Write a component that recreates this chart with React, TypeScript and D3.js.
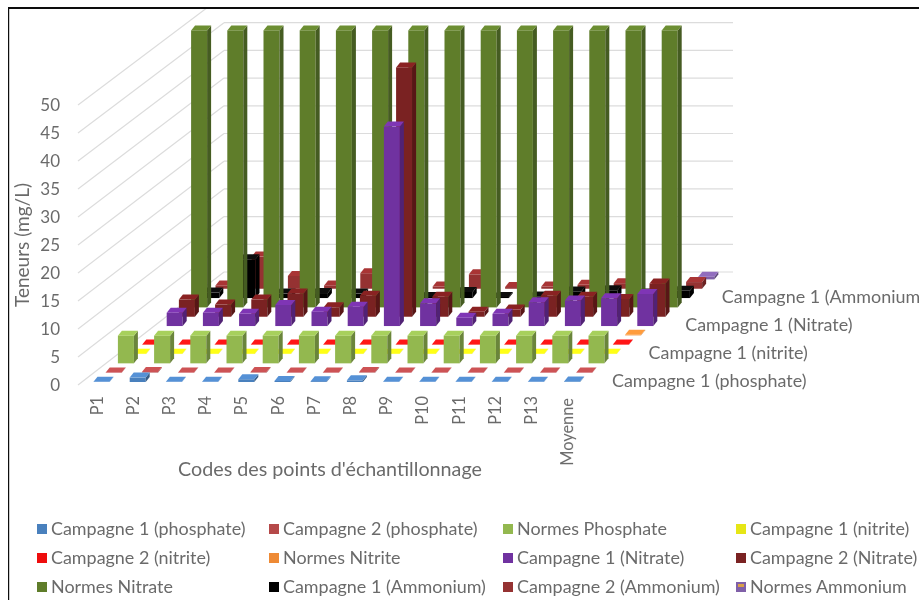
import React from "react";
import * as d3 from "d3";

const categories = ["P1","P2","P3","P4","P5","P6","P7","P8","P9","P10","P11","P12","P13","Moyenne"];
const axisTicks = [0,5,10,15,20,25,30,35,40,45,50];
const backTicks = [0,5,10,15,20,25,30,35,40,45];

const phosphate1 = [0.03,0.8,0.03,0.03,0.5,0.2,0.15,0.3,0.03,0.03,0.03,0.03,0.03,0.1];
const phosphate2 = [0.05,0.1,0.05,0.05,0.1,0.05,0.05,0.1,0.05,0.05,0.05,0.05,0.05,0.05];
const normesPhosphate = [5,5,5,5,5,5,5,5,5,5,5,5,5,5];
const nitrite1 = [0.05,0.05,0.05,0.05,0.05,0.05,0.05,0.05,0.05,0.05,0.05,0.05,0.05,0.05];
const nitrite2 = [0.05,0.05,0.05,0.05,0.05,0.05,0.05,0.05,0.05,0.05,0.05,0.05,0.05,0.05];
const normesNitrite = [null,null,null,null,null,null,null,null,null,null,null,null,null,0.1];
const nitrate1 = [2.4,2.4,2.2,3.8,2.6,3.5,36,4.1,1.5,2.2,4.3,4.6,5,5.8];
const nitrate2 = [3.1,2.2,3.1,4.2,1.7,3.8,45,3.6,0.9,1.3,3.8,3.6,3.2,6];
const normesNitrate = [50,50,50,50,50,50,50,50,50,50,50,50,50,50];
const ammonium1 = [1,7,0.8,0.9,0.8,0.5,0.2,1.1,0.2,0.3,1.2,1.4,0.8,1.3];
const ammonium2 = [0.6,5.8,2.3,0.6,2.8,0.5,0.4,2.6,0.3,0.4,0.7,1,0.5,1.2];
const normesAmmonium = [null,null,null,null,null,null,null,null,null,null,null,null,null,0.5];

const seriesNames = [
  "Campagne 1 (phosphate)","Campagne 2 (phosphate)","Normes Phosphate","Campagne 1 (nitrite)",
  "Campagne 2 (nitrite)","Normes Nitrite","Campagne 1 (Nitrate)","Campagne 2 (Nitrate)",
  "Normes Nitrate","Campagne 1 (Ammonium)","Campagne 2 (Ammonium)","Normes Ammonium",
];
const seriesValues = [phosphate1,phosphate2,normesPhosphate,nitrite1,nitrite2,normesNitrite,nitrate1,nitrate2,normesNitrate,ammonium1,ammonium2,normesAmmonium];
const seriesColors = ["#4a80bd","#b5484a","#93b850","#e6e614","#ee1010","#ee8a36","#7030a0","#7a2020","#5f7d2c","#000000","#953030","#8060a8"];
const depthLabels = [
  { name: "Campagne 1 (phosphate)", row: 0 },
  { name: "Campagne 1 (nitrite)", row: 3 },
  { name: "Campagne 1 (Nitrate)", row: 6 },
  { name: "Campagne 1 (Ammonium)", row: 9 },
];

const FONT = "Lato, 'Open Sans', sans-serif";
const GREY = "#6b6b6b";
const yPx = d3.scaleLinear().domain([0, 50]).range([0, 277]);
const frontY = d3.scaleLinear().domain([0, 50]).range([385, 105]);
const backY = d3.scaleLinear().domain([0, 50]).range([272, -5]);
const catX = d3.scaleLinear().domain([0, 13]).range([0, 470.6]);
const rowX = d3.scaleLinear().domain([0, 11]).range([101.5, 235.7]);
const rowY = d3.scaleLinear().domain([0, 11]).range([382, 279.4]);
const wallLeft = 224, wallFront = 78, wallRight = 733;
const W = 16, DX = 4, DY = 5;
const TEXT_STRETCH = 1.08;

function Bar({ row, cat, value, color }: { row: number; cat: number; value: number; color: string }) {
  const cx = rowX(row) + catX(cat);
  const x0 = cx - W / 2, x1 = cx + W / 2;
  const base = rowY(row);
  const top = base - yPx(value);
  const c = d3.color(color)!;
  const side = color === "#000000" ? "#000" : c.darker(0.9).formatHex();
  const lid = color === "#000000" ? "#111" : c.brighter(0.35).formatHex();
  const pts = (a: number[][]) => a.map((p) => p.join(",")).join(" ");
  return (
    <g>
      <rect x={x0} y={top} width={W} height={base - top} fill={color} />
      <polygon points={pts([[x1, top], [x1 + DX, top - DY], [x1 + DX, base - DY], [x1, base]])} fill={side} />
      <polygon points={pts([[x0, top], [x0 + DX, top - DY], [x1 + DX, top - DY], [x1, top]])} fill={lid} />
    </g>
  );
}

function LegendKey({ x, y, color, gradient }: { x: number; y: number; color: string; gradient: boolean }) {
  return (
    <g>
      <rect x={x} y={y - 5} width={10} height={10} fill={color} />
      {gradient && <rect x={x + 2} y={y - 3} width={6} height={3} fill="#d9a04a" />}
    </g>
  );
}

function Label({ x, y, children }: { x: number; y: number; children: React.ReactNode }) {
  return (
    <text transform={`translate(${x},${y}) scale(${TEXT_STRETCH},1)`} fontSize={16.6}>{children}</text>
  );
}

const legendCols = [37, 269, 503, 736];
const legendRows = [529, 558, 587];

export default function App() {
  return (
    <svg width={919} height={600} style={{ position: "absolute", left: 0, top: 0, background: "#fff" }} fontFamily={FONT}>
      <defs>
        <clipPath id="plot"><rect x={9} y={9} width={910} height={591} /></clipPath>
        <filter id="soft" x="0" y="0" width="100%" height="100%">
          <feGaussianBlur stdDeviation={0.6} />
        </filter>
      </defs>
      <g filter="url(#soft)">
        <g clipPath="url(#plot)" stroke="#dcdcdc" strokeWidth={1.2}>
          {axisTicks.map((v) => (
            <line key={"d" + v} x1={wallFront} x2={wallLeft} y1={frontY(v)} y2={backY(v)} />
          ))}
          {backTicks.map((v) => (
            <line key={"b" + v} x1={wallLeft} x2={wallRight} y1={backY(v)} y2={backY(v)} />
          ))}
        </g>
        {d3.range(11, -1, -1).map((row) =>
          seriesValues[row].map((v, cat) =>
            v === null ? null : <Bar key={row + "-" + cat} row={row} cat={cat} value={v} color={seriesColors[row]} />
          )
        )}
        <g fill={GREY}>
          {axisTicks.map((v) => (
            <text key={v} x={60} y={frontY(v) + 6} textAnchor="end" fontSize={17}>{v}</text>
          ))}
          {categories.map((c, i) => (
            <text key={c} transform={`translate(${102.5 + catX(i)},${i === 13 ? 398 : 396}) rotate(-90)`} textAnchor="end" fontSize={16.4}>{c}</text>
          ))}
          {depthLabels.map((d) => (
            <Label key={d.name} x={612 + d.row * 12.2} y={rowY(d.row) + 4.5}>{d.name}</Label>
          ))}
          <text transform="translate(29,245) rotate(-90)" textAnchor="middle" fontSize={19}>Teneurs (mg/L)</text>
          <text transform="translate(330,476) scale(1.067,1)" textAnchor="middle" fontSize={18.5}>Codes des points d'échantillonnage</text>
          {seriesNames.map((n, i) => {
            const col = i % 4, r = Math.floor(i / 4);
            return (
              <g key={n}>
                <LegendKey x={legendCols[col]} y={legendRows[r]} color={seriesColors[i]} gradient={i === 11} />
                <Label x={legendCols[col] + 14} y={legendRows[r] + 5.5}>{n}</Label>
              </g>
            );
          })}
        </g>
        <line x1={8} x2={919} y1={8} y2={8} stroke="#111" strokeWidth={2} />
        <line x1={8} x2={8} y1={7} y2={600} stroke="#111" strokeWidth={2.4} />
      </g>
    </svg>
  );
}
